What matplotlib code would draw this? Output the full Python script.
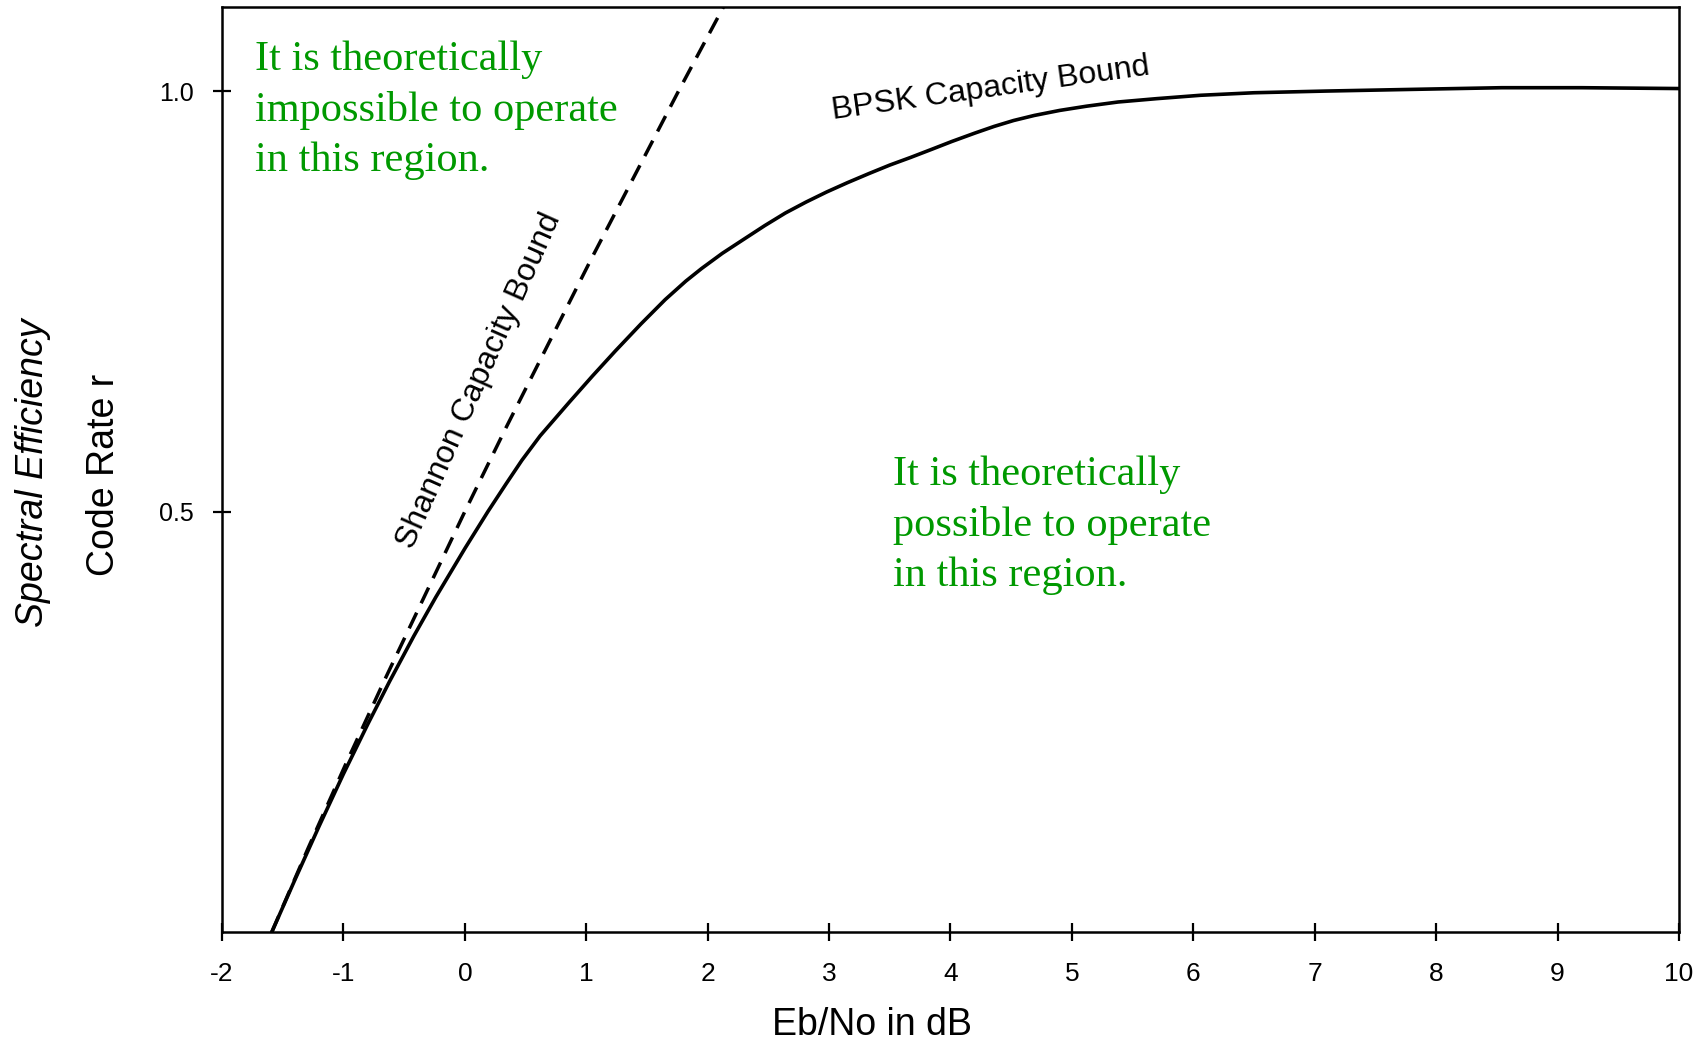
import matplotlib
matplotlib.use('Agg')
import matplotlib.pyplot as plt

# ── Dados ─────────────────────────────────────────────────────────────────────
# Limite de Shannon (tracejado): Eb/No em dB x taxa r
shannon_db = [-1.59, -1.29, -0.98, -0.66, -0.33, 0.00, 0.34, 0.69, 1.04, 1.40, 1.76, 2.13]
shannon_r  = [0.00, 0.10, 0.20, 0.30, 0.40, 0.50, 0.60, 0.70, 0.80, 0.90, 1.00, 1.10]

# Limite de capacidade BPSK (linha cheia)
bpsk_db = [-1.59, -1.40, -1.20, -1.00, -0.80, -0.62, -0.42, -0.24, 0.00, 0.19,
           0.34, 0.47, 0.62, 0.86, 1.05, 1.24, 1.45, 1.65, 1.82, 1.95, 2.12, 2.30, 2.47,
           2.64, 2.81, 2.98, 3.15, 3.33, 3.50, 3.67, 3.85, 4.01, 4.20, 4.36, 4.52, 4.69,
           4.90, 5.12, 5.38, 5.70, 6.06, 6.50, 7.09, 7.80, 8.54, 9.20, 10.0]
bpsk_r  = [0.000, 0.062, 0.126, 0.188, 0.247, 0.298, 0.352, 0.398, 0.456, 0.500,
           0.533, 0.561, 0.590, 0.630, 0.661, 0.691, 0.723, 0.752, 0.774, 0.789, 0.807, 0.824, 0.840,
           0.855, 0.868, 0.880, 0.891, 0.902, 0.912, 0.921, 0.931, 0.940, 0.950, 0.958, 0.965, 0.971,
           0.977, 0.982, 0.987, 0.991, 0.995, 0.998, 1.000, 1.002, 1.004, 1.004, 1.003]

x_ticks = list(range(-2, 11))
y_ticks = [0.5, 1.0]

SANS = 'Liberation Sans'
SERIF = 'Liberation Serif'
GREEN = '#009900'

# ── Figura ────────────────────────────────────────────────────────────────────
fig = plt.figure(figsize=(17.04, 10.41), dpi=100)
ax = fig.add_axes([0.1303, 0.1047, 0.855, 0.8886])

ax.plot(bpsk_db, bpsk_r, color='black', lw=2.6, solid_joinstyle='round')
ax.plot(shannon_db, shannon_r, color='black', lw=2.5, dashes=(5, 3))

ax.set_xlim(-2, 10)
ax.set_ylim(0, 1.1)
ax.set_xticks(x_ticks)
ax.set_xticklabels([str(t) for t in x_ticks], fontsize=19, family=SANS)
ax.set_yticks(y_ticks)
ax.set_yticklabels(['0.5', '1.0'], fontsize=18, family=SANS)
ax.tick_params(direction='inout', length=13, width=1.6)
ax.tick_params(axis='x', pad=15)
ax.tick_params(axis='y', pad=14)

for s in ax.spines.values():
    s.set_linewidth(1.8)

# ── Rótulos dos eixos ─────────────────────────────────────────────────────────
fig.text(0.5117, 0.015, 'Eb/No in dB', fontsize=27, family=SANS, ha='center', va='center')
fig.text(0.0195, 0.5456, 'Spectral Efficiency', fontsize=27, family=SANS, style='italic',
         rotation=90, ha='center', va='center')
fig.text(0.0610, 0.5437, 'Code Rate r', fontsize=27, family=SANS,
         rotation=90, ha='center', va='center')

# ── Anotações ─────────────────────────────────────────────────────────────────
ax.text(4.33, 1.003, 'BPSK Capacity Bound', fontsize=23, family=SANS,
        rotation=8, rotation_mode='anchor', ha='center', va='center')
ax.text(0.12, 0.655, 'Shannon Capacity Bound', fontsize=23, family=SANS,
        rotation=66, rotation_mode='anchor', ha='center', va='center')

ax.text(-1.73, 0.905, 'It is theoretically\nimpossible to operate\nin this region.',
        fontsize=30.5, family=SERIF, color=GREEN, ha='left', va='baseline', linespacing=1.4)
ax.text(3.53, 0.411, 'It is theoretically\npossible to operate\nin this region.',
        fontsize=30.5, family=SERIF, color=GREEN, ha='left', va='baseline', linespacing=1.4)

fig.savefig('out.png', dpi=100)
